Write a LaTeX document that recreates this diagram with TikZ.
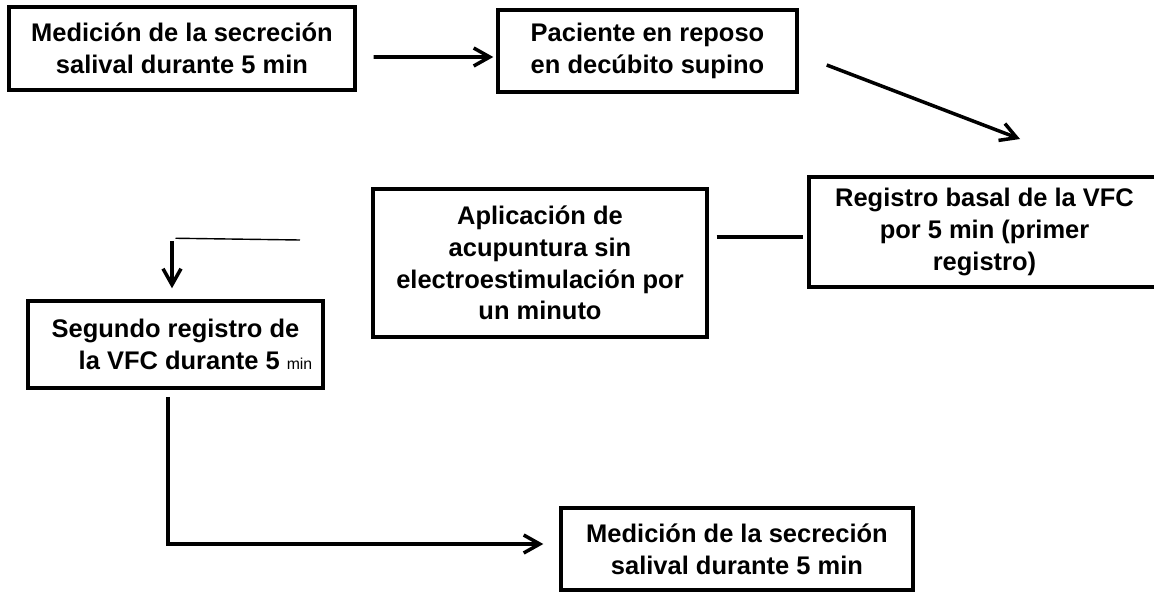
\documentclass[tikz,border=0pt]{standalone}
\usepackage{fontspec}
\setmainfont{Liberation Sans}
\usetikzlibrary{arrows.meta,calc}

\begin{document}
\begin{tikzpicture}[x=0.02cm, y=-0.02cm,
    caja/.style={draw, line width=2pt, align=center, inner sep=0pt,
                 font=\fontsize{14.5}{18}\selectfont\bfseries},
    flecha/.style={line width=2pt, -{Straight Barb[length=3.2mm,width=3.6mm]}}]
                % Page size
                \clip (0,0) rectangle (1154,592);
                
                % Boxes of the protocol
                \node[caja, minimum width=6.92cm, minimum height=1.66cm] (med1) at (182,48.5) {Medición de la secreción\\salival durante 5 min};
                \node[caja, minimum width=5.98cm, minimum height=1.64cm] (pac) at (647.5,51) {Paciente en reposo\\en decúbito supino};
                \node[caja, minimum width=7.02cm, minimum height=2.2cm] (reg) at (984.5,232) {Registro basal de la VFC\\por 5 min (primer\\registro)};
                \node[caja, minimum width=6.68cm, minimum height=2.96cm] (apl) at (540,263) {Aplicación de\\acupuntura sin\\electroestimulación por\\un minuto};
                \node[caja, minimum width=5.9cm, minimum height=1.74cm] (seg) at (175.5,344.5) {Segundo registro de\\\hspace*{0.8cm}la VFC durante 5 {\mdseries\small min}};
                \node[caja, minimum width=7.04cm, minimum height=1.64cm] (med2) at (737,549) {Medición de la secreción\\salival durante 5 min};
                
                % Top row arrows
                \draw[flecha] ($(med1.east)+(17,8.5)$) -- ($(pac.west)+(-3,6)$);
                \coordinate (p2) at (1020,139);
                \draw[flecha] ($(pac.east)+(28,14)$) -- (p2);
                
                % Middle row
                \draw[line width=2pt] ($(apl.east)+(8,-26)$) -- ($(reg.west)+(-4,5)$);
                \coordinate (t1) at (300,240);
                \draw[line width=0.8pt] (t1) -- ($(seg.north)+(0,-61)$);
                \draw[flecha] ($(seg.north)+(-3.5,-58)$) -- ($(seg.north)+(-3.5,-11)$);
                
                % Down and across to the last box
                \draw[flecha] ($(seg.south)+(-7.5,7)$) |- ($(med2.west)+(-16,-5)$);
            \end{tikzpicture}
\end{document}
